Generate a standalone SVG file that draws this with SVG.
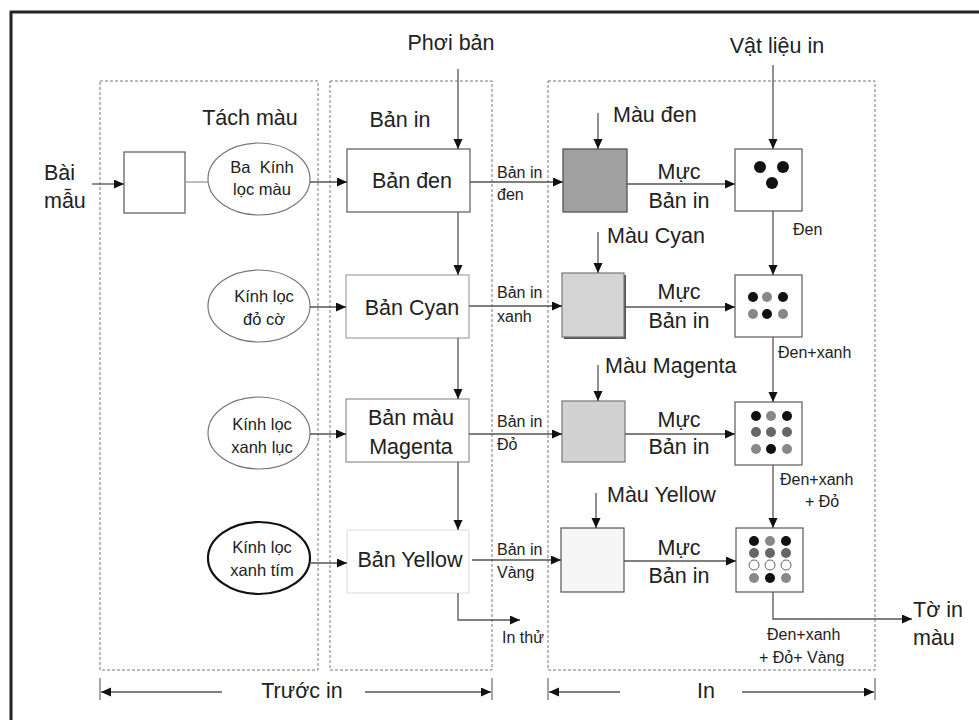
<svg xmlns="http://www.w3.org/2000/svg" width="979" height="720" viewBox="0 0 979 720">
<defs>
<marker id="ah" markerUnits="userSpaceOnUse" markerWidth="11" markerHeight="10" refX="10" refY="4.5" orient="auto">
<path d="M0,0 L10,4.5 L0,9 z" fill="#111"/>
</marker>
<style>
text{font-family:"Liberation Sans",Arial,sans-serif;fill:#222}
.L{font-size:21.5px}
.M{font-size:16.5px}
.S{font-size:16px}
.c{text-anchor:middle}
.panel{fill:none;stroke:#777;stroke-width:1;stroke-dasharray:3,2}
.box{fill:#fff;stroke:#666;stroke-width:1.3}
.ell{fill:#fff;stroke:#777;stroke-width:1.2}
.con{fill:none;stroke:#555;stroke-width:1.3}
.arr{fill:none;stroke:#555;stroke-width:1.3;marker-end:url(#ah)}
.k{fill:#111}.g{fill:#888}.d{fill:#666}.w{fill:#fff;stroke:#666;stroke-width:1}
</style>
</defs>
<rect x="0" y="0" width="979" height="720" fill="#fff"/>
<g id="frame">
<line x1="10" y1="12" x2="979" y2="12" stroke="#222" stroke-width="3"/>
<line x1="11" y1="11" x2="11" y2="720" stroke="#222" stroke-width="3"/>
</g>
<g id="panels">
<rect class="panel" x="100" y="81" width="218" height="589"/>
<rect class="panel" x="330" y="81" width="162" height="589"/>
<rect class="panel" x="548" y="81" width="327" height="589"/>
</g>
<g id="labels">
<text class="L" x="44" y="180">Bài</text>
<text class="L" x="44" y="208">mẫu</text>
<text class="L c" x="250" y="125">Tách màu</text>
<text class="L c" x="400" y="127">Bản in</text>
<text class="L c" x="451" y="50">Phơi bản</text>
<text class="L c" x="777" y="53">Vật liệu in</text>
<text class="L" x="613" y="122">Màu đen</text>
<text class="L" x="607" y="243">Màu Cyan</text>
<text class="L" x="605" y="373">Màu Magenta</text>
<text class="L" x="607" y="502">Màu Yellow</text>
<text class="S" x="497" y="178">Bản in</text><text class="S" x="497" y="200">đen</text>
<text class="S" x="497" y="298">Bản in</text><text class="S" x="497" y="322">xanh</text>
<text class="S" x="497" y="427">Bản in</text><text class="S" x="497" y="450">Đỏ</text>
<text class="S" x="497" y="555">Bản in</text><text class="S" x="497" y="578">Vàng</text>
<text class="L c" x="679" y="179">Mực</text><text class="L c" x="679" y="208">Bản in</text>
<text class="L c" x="679" y="299">Mực</text><text class="L c" x="679" y="328">Bản in</text>
<text class="L c" x="679" y="427">Mực</text><text class="L c" x="679" y="454">Bản in</text>
<text class="L c" x="679" y="555">Mực</text><text class="L c" x="679" y="583">Bản in</text>
<text class="S" x="793" y="235">Đen</text>
<text class="S" x="778" y="358">Đen+xanh</text>
<text class="S" x="780" y="485">Đen+xanh</text>
<text class="S c" x="822" y="507">+ Đỏ</text>
<text class="S" x="767" y="640">Đen+xanh</text>
<text class="S" x="759" y="663">+ Đỏ+ Vàng</text>
<text class="L" x="913" y="617">Tờ in</text>
<text class="L" x="913" y="645">màu</text>
<text class="S" x="502" y="643">In thử</text>
<text class="L c" x="302" y="698">Trước in</text>
<text class="L c" x="706" y="698">In</text>
</g>
<g id="n-source"><rect class="box" x="124" y="152" width="61" height="61"/></g>
<g id="n-filter3">
<ellipse class="ell" cx="259" cy="179" rx="51" ry="36"/>
<text class="M c" x="262" y="173">Ba&#160; Kính</text><text class="M c" x="262" y="195">lọc màu</text>
</g>
<g id="n-filterRed">
<ellipse class="ell" cx="259" cy="306" rx="51" ry="36"/>
<text class="M c" x="264" y="302">Kính lọc</text><text class="M c" x="264" y="325">đỏ cờ</text>
</g>
<g id="n-filterGreen">
<ellipse class="ell" cx="259" cy="433" rx="51" ry="36"/>
<text class="M c" x="262" y="430">Kính lọc</text><text class="M c" x="262" y="453">xanh lục</text>
</g>
<g id="n-filterViolet">
<ellipse cx="259" cy="558" rx="51" ry="36" style="fill:#fff;stroke:#111;stroke-width:2.2"/>
<text class="M c" x="262" y="553">Kính lọc</text><text class="M c" x="262" y="576">xanh tím</text>
</g>
<g id="n-black"><rect class="box" x="347" y="149" width="123" height="63"/><text class="L c" x="412" y="188">Bản đen</text></g>
<g id="n-cyan"><rect x="346" y="275" width="123" height="63" style="fill:#fff;stroke:#aaa;stroke-width:1.3"/><text class="L c" x="412" y="315">Bản Cyan</text></g>
<g id="n-magenta"><rect x="346" y="399" width="123" height="63" style="fill:#fff;stroke:#999;stroke-width:1.3"/><text class="L c" x="411" y="425">Bản màu</text><text class="L c" x="411" y="454">Magenta</text></g>
<g id="n-yellow"><rect x="347" y="530" width="122" height="63" style="fill:#fff;stroke:#e2e2e2;stroke-width:1.3"/><text class="L c" x="410" y="567">Bản Yellow</text></g>
<g id="n-ink1"><rect x="563" y="149" width="64" height="63" fill="#a0a0a0" stroke="#555" stroke-width="1.3"/></g>
<g id="n-ink2"><rect x="564" y="275" width="62" height="64" fill="#555"/><rect x="562" y="273" width="62" height="64" fill="#d4d4d4" stroke="#777" stroke-width="1.2"/></g>
<g id="n-ink3"><rect x="562" y="401" width="63" height="61" fill="#d2d2d2" stroke="#777" stroke-width="1.2"/></g>
<g id="n-ink4"><rect x="561" y="528" width="63" height="64" fill="#f5f5f5" stroke="#555" stroke-width="1.2"/></g>
<g id="n-sheet1"><rect class="box" x="735" y="149" width="67" height="62"/>
<circle class="k" cx="760" cy="167" r="6"/><circle class="k" cx="783" cy="167" r="6"/><circle class="k" cx="772" cy="183" r="6"/></g>
<g id="n-sheet2"><rect class="box" x="735" y="275" width="67" height="62"/>
<circle class="k" cx="753" cy="297" r="5"/><circle class="g" cx="767" cy="297" r="5"/><circle class="k" cx="783" cy="297" r="5"/>
<circle class="g" cx="753" cy="314" r="5"/><circle class="k" cx="767" cy="314" r="5"/><circle class="g" cx="783" cy="314" r="5"/></g>
<g id="n-sheet3"><rect class="box" x="735" y="402" width="67" height="63"/>
<circle class="k" cx="756" cy="416" r="5"/><circle class="g" cx="771" cy="416" r="5"/><circle class="k" cx="787" cy="416" r="5"/>
<circle class="d" cx="756" cy="432" r="5"/><circle class="d" cx="771" cy="432" r="5"/><circle class="d" cx="787" cy="432" r="5"/>
<circle class="g" cx="756" cy="449" r="5"/><circle class="k" cx="771" cy="449" r="5"/><circle class="g" cx="787" cy="449" r="5"/></g>
<g id="n-sheet4"><rect class="box" x="736" y="528" width="67" height="64"/>
<circle class="k" cx="754" cy="541" r="5"/><circle class="g" cx="770" cy="541" r="5"/><circle class="k" cx="786" cy="541" r="5"/>
<circle class="d" cx="754" cy="553" r="5"/><circle class="d" cx="770" cy="553" r="5"/><circle class="d" cx="786" cy="553" r="5"/>
<circle class="w" cx="754" cy="565" r="5"/><circle class="w" cx="770" cy="565" r="5"/><circle class="w" cx="786" cy="565" r="5"/>
<circle class="g" cx="754" cy="578" r="5"/><circle class="k" cx="770" cy="578" r="5"/><circle class="g" cx="786" cy="578" r="5"/></g>
<g id="connectors">
<line class="arr" x1="92" y1="184" x2="124" y2="184"/>
<line x1="185" y1="182" x2="208" y2="182" style="stroke:#999;stroke-width:1.3"/>
<line class="arr" x1="310" y1="182" x2="347" y2="182"/>
<line class="arr" x1="458" y1="69" x2="458" y2="149"/>
<line class="arr" x1="458" y1="212" x2="458" y2="275"/>
<line class="arr" x1="458" y1="338" x2="458" y2="399"/>
<line class="arr" x1="458" y1="462" x2="458" y2="530"/>
<line class="arr" x1="310" y1="307" x2="346" y2="307"/>
<line class="arr" x1="310" y1="434" x2="346" y2="434"/>
<line class="arr" x1="311" y1="563" x2="347" y2="563"/>
<line class="arr" x1="470" y1="182" x2="563" y2="182"/>
<line class="arr" x1="469" y1="306" x2="562" y2="306"/>
<line class="arr" x1="469" y1="434" x2="562" y2="434"/>
<line class="arr" x1="472" y1="560" x2="561" y2="560"/>
<line class="arr" x1="598" y1="113" x2="598" y2="149"/>
<line class="arr" x1="598" y1="232" x2="598" y2="273"/>
<line class="arr" x1="598" y1="365" x2="598" y2="401"/>
<line class="arr" x1="596" y1="493" x2="596" y2="528"/>
<line class="arr" x1="627" y1="184" x2="735" y2="184"/>
<line class="arr" x1="624" y1="307" x2="735" y2="307"/>
<line class="arr" x1="625" y1="434" x2="735" y2="434"/>
<line class="arr" x1="624" y1="561" x2="736" y2="561"/>
<line class="arr" x1="773" y1="65" x2="773" y2="149"/>
<line class="arr" x1="773" y1="211" x2="773" y2="275"/>
<line class="arr" x1="773" y1="337" x2="773" y2="402"/>
<line class="arr" x1="773" y1="465" x2="773" y2="528"/>
<polyline class="arr" points="458,593 458,620 520,620"/>
<polyline class="arr" points="773,592 773,619 912,619"/>
<line x1="100" y1="678" x2="100" y2="700" style="stroke:#777;stroke-width:1.3"/>
<line class="arr" x1="222" y1="692" x2="101" y2="692"/>
<line class="arr" x1="365" y1="692" x2="491" y2="692"/>
<line x1="492" y1="678" x2="492" y2="700" style="stroke:#777;stroke-width:1.3"/>
<line x1="548" y1="678" x2="548" y2="700" style="stroke:#777;stroke-width:1.3"/>
<line class="arr" x1="620" y1="692" x2="549" y2="692"/>
<line class="arr" x1="742" y1="692" x2="874" y2="692"/>
<line x1="875" y1="678" x2="875" y2="700" style="stroke:#777;stroke-width:1.3"/>
</g>
</svg>
